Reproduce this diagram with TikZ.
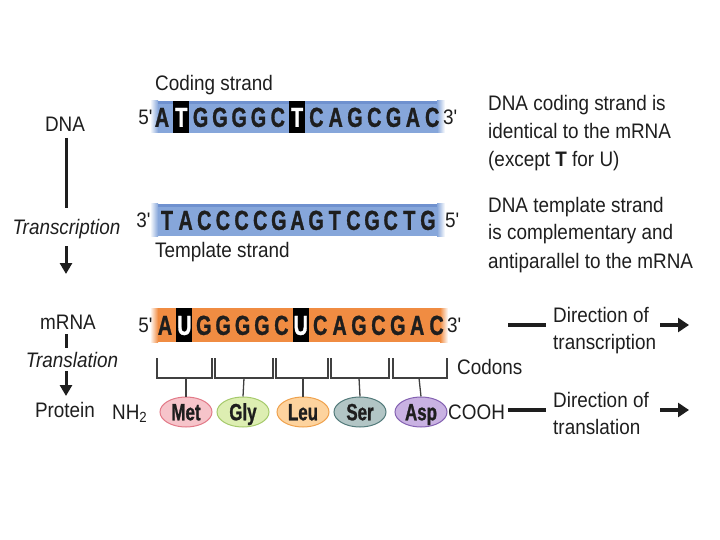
\documentclass[tikz,border=0pt]{standalone}
\usepackage{fontspec}
\setmainfont{Liberation Sans}[FakeStretch=0.9]
\newfontfamily\nucfont{Liberation Sans}[FakeStretch=0.72,FakeBold=1.0]
\usetikzlibrary{arrows.meta,shapes.geometric}
\definecolor{dnablue}{HTML}{86A6DA}
\definecolor{dnablueD}{HTML}{6F91CF}
\definecolor{rnaor}{HTML}{F08C42}
\definecolor{txt}{HTML}{1E1E1E}
\definecolor{metF}{HTML}{F6C4CA}\definecolor{metD}{HTML}{E27A88}
\definecolor{glyF}{HTML}{DDEEB2}\definecolor{glyD}{HTML}{A6CA6C}
\definecolor{leuF}{HTML}{FDD39E}\definecolor{leuD}{HTML}{EFA24E}
\definecolor{serF}{HTML}{B2C5C5}\definecolor{serD}{HTML}{527A7A}
\definecolor{aspF}{HTML}{C9B2E2}\definecolor{aspD}{HTML}{8462B2}
\newcommand{\pr}{\textquotesingle}
\begin{document}
\begin{tikzpicture}[x=1pt,y=-1pt,
  every node/.style={inner sep=0pt,text=txt},
  lbl/.style={font=\fontsize{21}{26}\selectfont,anchor=base west},
  lblc/.style={font=\fontsize{21}{26}\selectfont,anchor=base},
  ital/.style={font=\fontsize{21}{26}\selectfont\itshape,anchor=base},
  nuc/.style={font=\nucfont\bfseries\fontsize{27.5}{27.5}\selectfont,text height=19.7pt,text depth=0pt,anchor=center},
  hl/.style={fill=black},
  vline/.style={line width=3pt,draw=txt},
  varrow/.style={line width=3pt,draw=txt,-{Triangle[length=11pt,width=12pt]}},
  hline/.style={line width=4.5pt,draw=txt},
  harrow/.style={line width=4.5pt,draw=txt,-{Triangle[length=11pt,width=14pt]}},
  bracket/.style={line width=1.3pt,draw=txt!85},
  aa/.style={ellipse,line width=1pt,minimum width=52pt,minimum height=30pt,
    text height=16.5pt,text depth=0pt,
    font=\nucfont\bfseries\fontsize{23.5}{23.5}\selectfont},
]
\useasboundingbox (0,0) rectangle (720,540);

% ---------- bars ----------
\fill[dnablue] (155,101) rectangle (440,133);
\fill[dnablueD] (155,101) rectangle (440,104);
\shade[left color=white,right color=dnablue] (150,101) rectangle (158,133);
\shade[left color=dnablue,right color=white] (437,101) rectangle (445,133);

\fill[dnablue] (155,204) rectangle (440,236);
\fill[dnablueD] (155,204) rectangle (440,207);
\shade[left color=white,right color=dnablue] (150,204) rectangle (158,236);
\shade[left color=dnablue,right color=white] (437,204) rectangle (445,236);

\fill[rnaor] (155,308) rectangle (443,342);
\shade[left color=white,right color=rnaor] (150,308) rectangle (158,342);
\shade[left color=rnaor,right color=white] (440,308) rectangle (448,342);

% highlight boxes
\fill[hl] (173.3,101) rectangle (189.3,133);
\fill[hl] (289.1,101) rectangle (305.1,133);
\fill[hl] (176.4,308) rectangle (192.4,342);
\fill[hl] (293,308) rectangle (309,342);

% ---------- coding strand ----------
\node[lbl] (codlab) at (155,91) {Coding strand};
\node[lblc,anchor=base east] (c5) at (153,124.5) {5\pr};
\foreach \l [count=\i from 0] in {A,T,G,G,G,G,C,T,C,A,G,C,G,A,C}{
  \pgfmathsetmacro{\xx}{162+19.3*\i}
  \ifnum\i=1 \node[nuc,text=white] (cs\i) at (\xx,117) {\l};
  \else\ifnum\i=7 \node[nuc,text=white] (cs\i) at (\xx,117) {\l};
  \else \node[nuc] (cs\i) at (\xx,117) {\l};\fi\fi
}
\node[lbl] (c3) at (443,124.5) {3\pr};

% ---------- template strand ----------
\node[lblc,anchor=base east] (t3) at (151,227.5) {3\pr};
\foreach \l [count=\i from 0] in {T,A,C,C,C,C,G,A,G,T,C,G,C,T,G}{
  \pgfmathsetmacro{\xx}{167+18.64*\i}
  \node[nuc] (ts\i) at (\xx,220) {\l};
}
\node[lbl] (t5) at (445,227.5) {5\pr};
\node[lbl] (tmplab) at (155,258) {Template strand};

% ---------- mRNA ----------
\node[lblc,anchor=base east] (m5) at (153,332.5) {5\pr};
\foreach \l [count=\i from 0] in {A,U,G,G,G,G,C,U,C,A,G,C,G,A,C}{
  \pgfmathsetmacro{\xx}{165+19.4*\i}
  \ifnum\i=1 \node[nuc,text=white] (ms\i) at (\xx,325) {\l};
  \else\ifnum\i=7 \node[nuc,text=white] (ms\i) at (\xx,325) {\l};
  \else \node[nuc] (ms\i) at (\xx,325) {\l};\fi\fi
}
\node[lbl] (m3) at (447,332.5) {3\pr};

% ---------- codons and amino acids ----------
\node[aa,draw=metD,fill=metF] (met) at (186,412) {Met};
\node[aa,draw=glyD,fill=glyF] (gly) at (243,412) {Gly};
\node[aa,draw=leuD,fill=leuF] (leu) at (303,412) {Leu};
\node[aa,draw=serD,fill=serF] (ser) at (360,412) {Ser};
\node[aa,draw=aspD,fill=aspF] (asp) at (421,412) {Asp};

\foreach \a/\b/\m/\n in {157/212/186/met,215/273/244/gly,276/328/303/leu,331/389/359/ser,393/447/419/asp}{
  \draw[bracket] (\a,358) -- (\a,378) -- (\b,378) -- (\b,358);
  \coordinate (k\n) at (\m,378);
  \draw[bracket] (k\n) -- (\n.north);
}
\node[lbl] (codons) at (457,374) {Codons};
\node[lbl] (nh2) at (112,419) {NH\textsubscript{2}};
\node[lbl] (cooh) at (448,419) {COOH};

% ---------- left flow ----------
\node[lblc] (dna) at (65,132) {DNA};
\node[ital] (trsc) at (66.5,234) {Transcription};
\node[lblc] (mrna) at (68,329) {mRNA};
\node[ital] (trsl) at (72,367) {Translation};
\node[lblc] (prot) at (65,417) {Protein};

\coordinate (d1) at (66,138); \coordinate (d2) at (66,208);
\coordinate (d3) at (66,246); \coordinate (d4) at (66,274);
\coordinate (d5) at (66,334); \coordinate (d6) at (66,348);
\coordinate (d7) at (66,371); \coordinate (d8) at (66,396);
\draw[vline] (d1) -- (d2);
\draw[varrow] (d3) -- (d4);
\draw[vline] (d5) -- (d6);
\draw[varrow] (d7) -- (d8);

% ---------- right notes ----------
\node[lbl] (n1) at (488,110.5) {DNA coding strand is};
\node[lbl] (n2) at (488,138.5) {identical to the mRNA};
\node[lbl] (n3) at (488,166.5) {(except \textbf{T} for U)};
\node[lbl] (n4) at (488,212) {DNA template strand};
\node[lbl] (n5) at (488,240) {is complementary and};
\node[lbl] (n6) at (488,268) {antiparallel to the mRNA};

% ---------- directions ----------
\coordinate (e1) at (508,325); \coordinate (e2) at (546,325);
\draw[hline] (e1) -- (e2);
\node[lbl] (dt1) at (553,322) {Direction of};
\node[lbl] (dt2) at (553,349) {transcription};
\coordinate (e3) at (660,325); \coordinate (e4) at (689,325);
\draw[harrow] (e3) -- (e4);

\coordinate (f1) at (508,410); \coordinate (f2) at (546,410);
\draw[hline] (f1) -- (f2);
\node[lbl] (dl1) at (553,407) {Direction of};
\node[lbl] (dl2) at (553,434) {translation};
\coordinate (f3) at (660,410); \coordinate (f4) at (689,410);
\draw[harrow] (f3) -- (f4);
\end{tikzpicture}
\end{document}
